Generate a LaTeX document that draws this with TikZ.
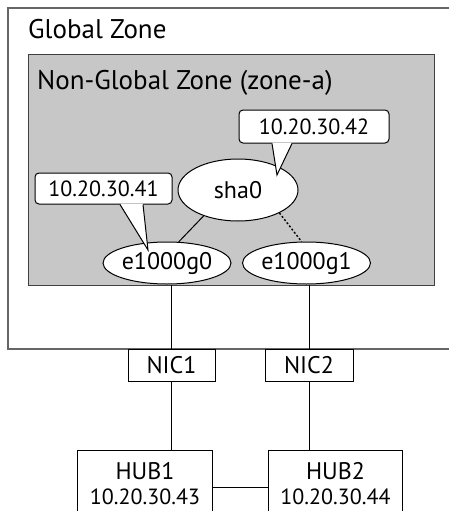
\documentclass[tikz,border=0pt]{standalone}
\usepackage{fontspec}
\setmainfont{PT Sans}
\usetikzlibrary{calc,shapes.geometric}
\newcommand\zonefont{\fontsize{27}{29}\selectfont}
\newcommand\ipfont{\fontsize{22}{24}\selectfont}
\begin{document}
\begin{tikzpicture}[x=1pt,y=-1pt,
  font=\fontsize{24}{25}\selectfont,
  zone/.style={draw=black!75,line width=1pt},
  iface/.style={ellipse,draw,fill=white,inner sep=0pt,line width=1pt},
  ipbox/.style={draw,fill=white,rounded corners=4pt,inner sep=0pt,line width=1pt,font=\ipfont},
  hw/.style={draw,fill=white,inner sep=0pt,line width=1pt,align=center},
  link/.style={line width=1pt}]
  \useasboundingbox (0,0) rectangle (449,511);
  \clip (0,0) rectangle (449,511);
  \draw[zone,draw=black!60,line width=1.5pt] (8,8) rectangle (470,349);
  \node[anchor=base west,inner sep=0pt,font=\zonefont] (glabel) at (28,39) {Global Zone};
  \node[zone,fill=black!22,anchor=north west,minimum width=406pt,minimum height=231pt] (ngz) at (28,54) {};
  \node[anchor=base west,inner sep=0pt,font=\zonefont] (nglabel) at (37,89) {Non-Global Zone (zone-a)};
  \node[iface,minimum width=120pt,minimum height=62pt] (sha0) at (238,190) {sha0};
  \node[iface,minimum width=106pt,minimum height=42pt] (e1000g0) at (167,263) {e1000g0};
  \node[iface,minimum width=113pt,minimum height=42pt] (e1000g1) at (306.5,263) {e1000g1};
  \draw[link] (sha0.217) -- (e1000g0.61);
  \draw[link,line width=1.4pt,dash pattern=on 2pt off 2pt] (sha0.331) -- (e1000g1.103);
  \node[ipbox,minimum width=150pt,minimum height=33pt] (ip42) at (314,126.5) {10.20.30.42};
  \coordinate (tip42) at (277,175);
  \fill[white] ($(ip42.south)+(-42,-1)$) -- (tip42) -- ($(ip42.south)+(-22,-1)$) -- cycle;
  \draw[link] ($(ip42.south)+(-42,0)$) -- (tip42) -- ($(ip42.south)+(-22,0)$);
  \node[ipbox,minimum width=137pt,minimum height=31pt] (ip41) at (103.5,188.5) {10.20.30.41};
  \coordinate (tip41) at (148,250);
  \fill[white] ($(ip41.south)+(16.5,-1)$) -- (tip41) -- ($(ip41.south)+(39.5,-1)$) -- cycle;
  \draw[link] ($(ip41.south)+(16.5,0)$) -- (tip41) -- ($(ip41.south)+(39.5,0)$);
  \node[hw,anchor=north,minimum width=87pt,minimum height=32pt] (nic1) at (171.5,349) {NIC1};
  \node[hw,anchor=north,minimum width=88pt,minimum height=32pt] (nic2) at (309,349) {NIC2};
  \node[hw,anchor=north west,minimum width=135pt,minimum height=66pt] (hub1) at (77,450) {HUB1\\\ipfont 10.20.30.43};
  \node[hw,anchor=north west,minimum width=134pt,minimum height=66pt] (hub2) at (268,450) {HUB2\\\ipfont 10.20.30.44};
  \draw[link] (nic1.north |- e1000g0.south) -- (nic1.north);
  \draw[link] (nic2.north |- e1000g1.south) -- (nic2.north);
  \draw[link] (nic1.south) -- (nic1.south |- hub1.north);
  \draw[link] (nic2.south) -- (nic2.south |- hub2.north);
  \draw[link] ([yshift=-4pt]hub1.east) -- ([yshift=-4pt]hub2.west);
\end{tikzpicture}
\end{document}
